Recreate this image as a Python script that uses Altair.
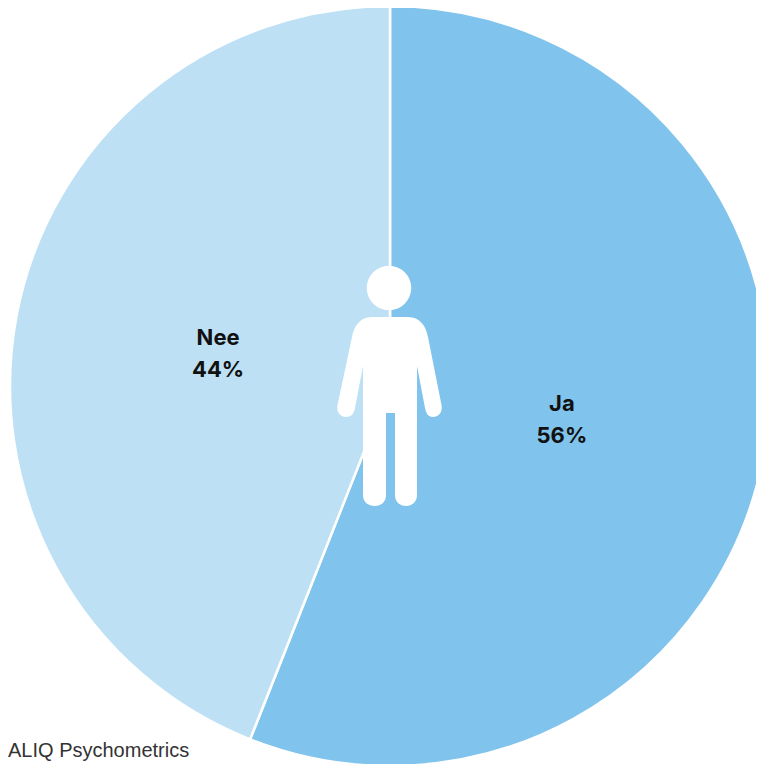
import altair as alt
import pandas as pd

categories = ["Ja", "Nee"]
values = [56, 44]
labels = ["Ja\n56%", "Nee\n44%"]
colors = ["#80C3EC", "#BEE0F5"]
source_note = "ALIQ Psychometrics"

CX, CY, R = 382, 378, 380
df = pd.DataFrame({"cat": categories, "val": values, "label": labels, "ord": [0, 1]})

theta = alt.Theta("val:Q", stack=True)
color = alt.Color("cat:N", scale=alt.Scale(domain=categories, range=colors), legend=None)
order = alt.Order("ord:Q")
xc, yc = alt.value(CX), alt.value(CY)

pie = alt.Chart(df).mark_arc(outerRadius=R, stroke="white", strokeWidth=2.5).encode(
    theta=theta, color=color, order=order, x=xc, y=yc
)
text = alt.Chart(df).mark_text(
    radius=175, dy=-15, font="Inter", fontSize=22, fontWeight="bold", color="#111111",
    lineBreak="\n", lineHeight=32, align="center", baseline="middle",
).encode(theta=theta, order=order, text="label:N", x=xc, y=yc)


def p(x, y):
    # icon outline, measured relative to the pie centre at (390, 386) in the reference
    return f"{(x - 390) / 100:.3f},{(y - 386) / 100:.3f}"


body_path = " ".join([
    "M", p(372, 317), "L", p(408, 317),
    "C", p(420, 317), p(426, 326), p(428, 337),
    "L", p(441.5, 405),
    "C", p(443, 413), p(438, 417), p(433, 417),
    "C", p(428, 417), p(426, 413), p(425, 408),
    "L", p(417, 366),
    "L", p(417, 495),
    "C", p(417, 502), p(412, 506), p(406, 506),
    "C", p(400, 506), p(395, 502), p(395, 495),
    "L", p(395, 413), "L", p(386, 413), "L", p(386, 495),
    "C", p(386, 502), p(381, 506), p(375, 506),
    "C", p(368, 506), p(363, 502), p(363, 495),
    "L", p(363, 366),
    "L", p(355, 408),
    "C", p(354, 413), p(352, 417), p(346, 417),
    "C", p(341, 417), p(336, 413), p(337.5, 405),
    "L", p(352, 337),
    "C", p(354, 326), p(360, 317), p(372, 317), "Z",
])

anchor = alt.Chart(pd.DataFrame({"a": [0]}))
head = anchor.mark_point(shape="circle", size=1980, filled=True, color="white", opacity=1, strokeWidth=0).encode(
    x=alt.value(381), y=alt.value(280)
)
body = anchor.mark_point(shape=body_path, size=40000, filled=True, color="white", opacity=1, strokeWidth=0).encode(
    x=xc, y=yc
)
note = alt.Chart(pd.DataFrame({"t": [source_note]})).mark_text(
    font="Liberation Sans", fontSize=20, color="#333333", align="left", baseline="alphabetic"
).encode(text="t:N", x=alt.value(0), y=alt.value(749))

chart = (
    alt.layer(pie, text, head, body, note)
    .properties(width=748, height=756, padding=0, background="white")
    .configure(autosize=alt.AutoSizeParams(type="none"))
    .configure_view(stroke=None)
)
chart.save("out.html", embed_options={"renderer": "svg", "actions": False})
